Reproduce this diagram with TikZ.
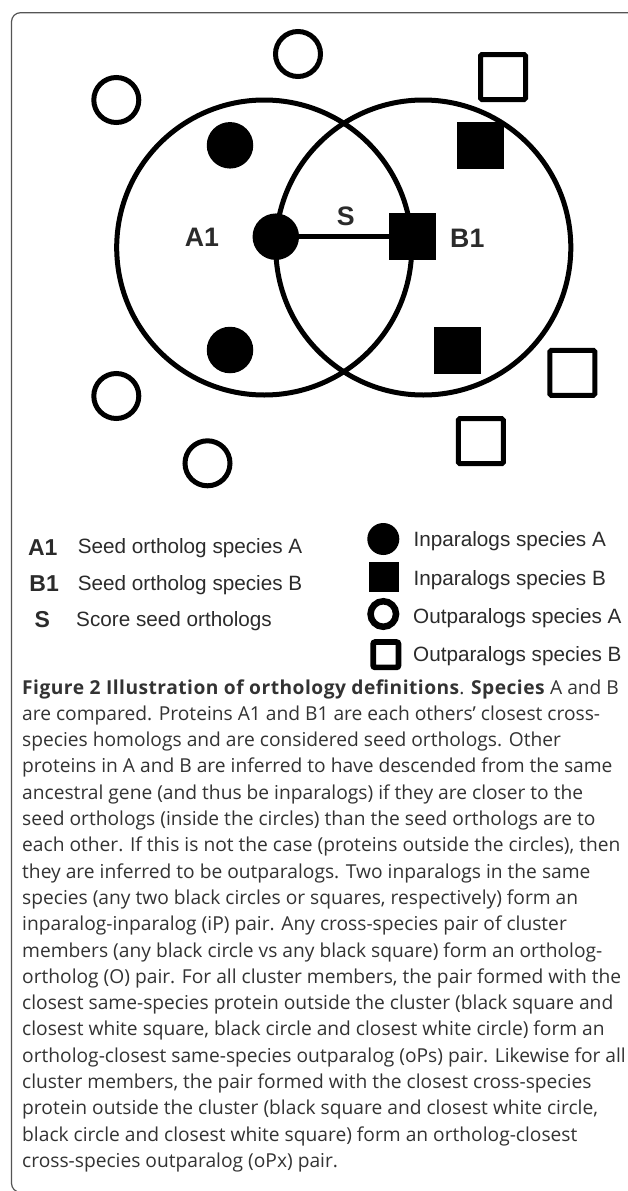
\documentclass[tikz,border=0pt]{standalone}
\usepackage{fontspec}
\setmainfont{Liberation Sans}
\newfontfamily\capfont{Open Sans}
\newcommand\capbf[1]{\textbf{\addfontfeature{LetterSpace=2.5}#1}}
\definecolor{labelgray}{HTML}{2B2B2B}
\definecolor{capgray}{HTML}{333333}
\definecolor{framegray}{HTML}{555555}
\begin{document}
\begin{tikzpicture}[x=1pt,y=-1pt,
  bigcirc/.style={circle, draw=black, line width=5pt, minimum size=295pt, inner sep=0pt},
  dotA/.style={circle, fill=black, minimum size=46.5pt, inner sep=0pt},
  sqB/.style={rectangle, fill=black, minimum size=47pt, inner sep=0pt},
  ringA/.style={circle, draw=black, fill=white, line width=5pt, minimum size=45pt, inner sep=0pt},
  boxB/.style={rectangle, draw=black, fill=white, line width=5pt, minimum size=45pt, inner sep=0pt, rounded corners=1.5pt},
  lbl/.style={text=labelgray, inner sep=0pt, font=\fontsize{26.7}{30}\selectfont\bfseries},
  legkey/.style={text=labelgray, inner sep=0pt, anchor=base, font=\fontsize{23}{26}\selectfont\bfseries},
  legtxt/.style={text=labelgray, inner sep=0pt, anchor=base west, font=\fontsize{20.7}{24}\selectfont},
  captxt/.style={text=capgray, inner sep=0pt, anchor=base west, font=\capfont\fontsize{19.2}{24}\selectfont}
]
\useasboundingbox (0,0) rectangle (627,1191);
\fill[white] (0,0) rectangle (627,1191);
\draw[framegray, line width=1.2pt, rounded corners=9pt] (11.5,12.7) rectangle (660,1192.3);

% big circles
\node[bigcirc] (ca) at (264.2,247.5) {};
\node[bigcirc] (cb) at (423.3,247.5) {};

% inparalogs
\node[dotA] (a1) at (275.8,236.7) {};
\node[dotA] (a2) at (230,145.3) {};
\node[dotA] (a3) at (230,350) {};
\node[sqB] (b1) at (412.5,236.7) {};
\node[sqB] (b2) at (480.8,145.3) {};
\node[sqB] (b3) at (457.8,350.3) {};
\draw[line width=5.5pt] (a1) -- (b1);

% outparalogs
\node[ringA] (oa1) at (116.3,100) {};
\node[ringA] (oa2) at (298,54) {};
\node[ringA] (oa3) at (116.3,396) {};
\node[ringA] (oa4) at (207.5,463.3) {};
\node[boxB] (ob1) at (503,77) {};
\node[boxB] (ob2) at (572.3,372.8) {};
\node[boxB] (ob3) at (480.8,441.2) {};

% labels
\node[lbl] (la1) at (202,237.8) {A1};
\node[lbl] (lb1) at (467.3,238.8) {B1};
\node[lbl] (ls) at (345.8,216.7) {S};

% legend left
\node[legkey] (ka) at (42.8,555) {A1};
\node[legkey] (kb) at (44.2,591.7) {B1};
\node[legkey] (ks) at (42.2,627.3) {S};
\node[legtxt] (ta) at (77.7,553.5) {Seed ortholog species A};
\node[legtxt] (tb) at (77.7,590) {Seed ortholog species B};
\node[legtxt] (ts) at (76,626) {Score seed orthologs};

% legend right
\node[circle, fill=black, minimum size=32pt, inner sep=0pt] (kia) at (383.3,539) {};
\node[rectangle, fill=black, minimum size=30pt, inner sep=0pt] (kib) at (384,576.7) {};
\node[circle, draw=black, line width=6.5pt, minimum size=25.5pt, inner sep=0pt] (koa) at (383.3,614) {};
\node[rectangle, draw=black, line width=5.7pt, minimum size=25.3pt, inner sep=0pt, rounded corners=2pt] (kob) at (385.8,654.7) {};
\node[legtxt] (tia) at (413.5,546.7) {Inparalogs species A};
\node[legtxt] (tib) at (413.5,585) {Inparalogs species B};
\node[legtxt] (toa) at (413,623.3) {Outparalogs species A};
\node[legtxt] (tob) at (413,661.7) {Outparalogs species B};

% caption
\foreach \t [count=\i] in {%
{\capbf{Figure 2 Illustration of orthology definitions}. \capbf{Species} A and B},
{are compared. Proteins A1 and B1 are each others’ closest cross-},
{species homologs and are considered seed orthologs. Other},
{proteins in A and B are inferred to have descended from the same},
{ancestral gene (and thus be inparalogs) if they are closer to the},
{seed orthologs (inside the circles) than the seed orthologs are to},
{each other. If this is not the case (proteins outside the circles), then},
{they are inferred to be outparalogs. Two inparalogs in the same},
{species (any two black circles or squares, respectively) form an},
{inparalog-inparalog (iP) pair. Any cross-species pair of cluster},
{members (any black circle vs any black square) form an ortholog-},
{ortholog (O) pair. For all cluster members, the pair formed with the},
{closest same-species protein outside the cluster (black square and},
{closest white square, black circle and closest white circle) form an},
{ortholog-closest same-species outparalog (oPs) pair. Likewise for all},
{cluster members, the pair formed with the closest cross-species},
{protein outside the cluster (black square and closest white circle,},
{black circle and closest white square) form an ortholog-closest},
{cross-species outparalog (oPx) pair.}}
  \node[captxt] (cap\i) at (22,{694+(\i-1)*26.3}) {\t};
\end{tikzpicture}
\end{document}
